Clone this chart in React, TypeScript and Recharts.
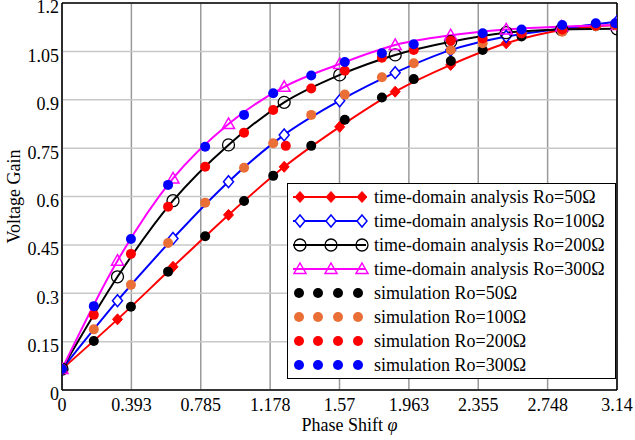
import { ComposedChart, Line, Scatter, XAxis, YAxis, CartesianGrid, ReferenceLine, Label } from "recharts"

const font = '"Liberation Serif", "Times New Roman", serif'

const xTicks = [0, 0.3925, 0.785, 1.1775, 1.57, 1.9625, 2.355, 2.7475, 3.14]
const xTickLabels = ["0", "0.393", "0.785", "1.178", "1.57", "1.963", "2.355", "2.748", "3.14"]
const yTicks = [0, 0.15, 0.3, 0.45, 0.6, 0.75, 0.9, 1.05, 1.2]
const yTickLabels = ["0", "0.15", "0.3", "0.45", "0.6", "0.75", "0.9", "1.05", "1.2"]

// time-domain analysis, sampled every pi/10
const anaX = [0, 0.314, 0.628, 0.942, 1.257, 1.571, 1.885, 2.199, 2.513, 2.827, 3.14]
const ana50 = [0.065, 0.219, 0.382, 0.543, 0.692, 0.816, 0.925, 1.008, 1.075, 1.116, 1.132]
const ana100 = [0.065, 0.277, 0.47, 0.646, 0.791, 0.897, 0.984, 1.054, 1.096, 1.121, 1.142]
const ana200 = [0.065, 0.351, 0.587, 0.76, 0.892, 0.977, 1.039, 1.08, 1.108, 1.118, 1.12]
const ana300 = [0.065, 0.401, 0.656, 0.825, 0.94, 1.011, 1.07, 1.1, 1.118, 1.127, 1.132]

// simulation points
const simX = [0, 0.18, 0.39, 0.6, 0.81, 1.03, 1.195, 1.41, 1.6, 1.81, 1.99, 2.2, 2.38, 2.6, 2.83, 3.02, 3.13]
const sim50 = [0.065, 0.152, 0.258, 0.367, 0.477, 0.586, 0.664, 0.757, 0.838, 0.907, 0.964, 1.02, 1.054, 1.096, 1.115, 1.128, 1.132]
const sim100 = [0.065, 0.188, 0.326, 0.456, 0.581, 0.689, 0.765, 0.853, 0.916, 0.97, 1.013, 1.054, 1.075, 1.106, 1.111, 1.128, 1.132]
const sim200 = [0.065, 0.233, 0.422, 0.568, 0.692, 0.798, 0.868, 0.935, 0.99, 1.03, 1.054, 1.083, 1.09, 1.106, 1.118, 1.13, 1.134]
const sim300 = [0.065, 0.26, 0.468, 0.636, 0.754, 0.853, 0.92, 0.975, 1.017, 1.044, 1.072, null, 1.106, 1.118, 1.132, 1.137, 1.137]
// stray red point near x=1.27
const sim200ExtraX = [1.266]
const sim200Extra = [0.757]

const toPts = (xs: number[], ys: (number | null)[]) =>
  xs.map((x, i) => ({ x, y: ys[i] })).filter((p) => p.y !== null)

const anaSeries = [
  { name: "time-domain analysis Ro=50Ω", color: "#ff0000", marker: "diamondFilled", ys: ana50 },
  { name: "time-domain analysis Ro=100Ω", color: "#0000ff", marker: "diamond", ys: ana100 },
  { name: "time-domain analysis Ro=200Ω", color: "#000000", marker: "circle", ys: ana200 },
  { name: "time-domain analysis Ro=300Ω", color: "#ff00ff", marker: "triangle", ys: ana300 },
]

const simSeries = [
  { name: "simulation Ro=50Ω", color: "#000000", pts: toPts(simX, sim50) },
  { name: "simulation Ro=100Ω", color: "#ea6f36", pts: toPts(simX, sim100) },
  { name: "simulation Ro=200Ω", color: "#ff0000", pts: [...toPts(simX, sim200), ...toPts(sim200ExtraX, sim200Extra)] },
  { name: "simulation Ro=300Ω", color: "#0000ff", pts: toPts(simX, sim300) },
]

function Marker({ shape, cx, cy, color }: { shape: string; cx: number; cy: number; color: string }) {
  if (shape === "diamondFilled")
    return <polygon points={`${cx},${cy - 5.5} ${cx + 5},${cy} ${cx},${cy + 5.5} ${cx - 5},${cy}`} fill={color} stroke={color} strokeWidth={1} />
  if (shape === "diamond")
    return <polygon points={`${cx},${cy - 6} ${cx + 5},${cy} ${cx},${cy + 6} ${cx - 5},${cy}`} fill="#fff" stroke={color} strokeWidth={1.5} />
  if (shape === "circle") return <circle cx={cx} cy={cy} r={6} fill="none" stroke={color} strokeWidth={1.3} />
  return <polygon points={`${cx},${cy - 6} ${cx + 6},${cy + 4.5} ${cx - 6},${cy + 4.5}`} fill="none" stroke={color} strokeWidth={1.5} />
}

function XLabel({ viewBox }: any) {
  const cx = viewBox.x + viewBox.width / 2 + 10
  return (
    <text x={cx} y={431} textAnchor="middle" fontSize={18} fontFamily={font} fill="#000">
      Phase Shift <tspan fontStyle="italic">φ</tspan>
    </text>
  )
}

function YTick({ x, y, payload }: any) {
  return (
    <text x={x} y={y + 4} dy="0.355em" textAnchor="end" fontSize={18} fontFamily={font} fill="#000">
      {yTickLabels[yTicks.indexOf(payload.value)] ?? ""}
    </text>
  )
}

function ChartLegend() {
  return (
    <div
      style={{
        position: "absolute",
        left: 287,
        top: 183,
        width: 329,
        height: 196,
        border: "1.5px solid #000",
        background: "#fff",
        boxSizing: "border-box",
        paddingTop: 1,
        fontFamily: font,
        fontSize: 18,
      }}
    >
      {anaSeries.map((s) => (
        <div key={s.name} style={{ display: "flex", alignItems: "center", height: 24 }}>
          <svg width={86} height={24} style={{ flex: "none" }}>
            <line x1={5} y1={12} x2={78} y2={12} stroke={s.color} strokeWidth={2} />
            {[12, 43, 74].map((cx) => (
              <Marker key={cx} shape={s.marker} cx={cx} cy={12} color={s.color} />
            ))}
          </svg>
          <span style={{ whiteSpace: "nowrap" }}>{s.name}</span>
        </div>
      ))}
      {simSeries.map((s) => (
        <div key={s.name} style={{ display: "flex", alignItems: "center", height: 24 }}>
          <svg width={86} height={24} style={{ flex: "none" }}>
            {[11, 30, 50, 70].map((cx) => (
              <circle key={cx} cx={cx} cy={12} r={5} fill={s.color} />
            ))}
          </svg>
          <span style={{ whiteSpace: "nowrap" }}>{s.name}</span>
        </div>
      ))}
    </div>
  )
}

export default function App() {
  return (
    <div style={{ position: "absolute", left: 0, top: 0, width: 635, height: 440, background: "#fff" }}>
      <ComposedChart width={635} height={440} margin={{ top: 3, right: 18, bottom: 0, left: 2 }}>
        <CartesianGrid horizontal={false} stroke="#9a9a9a" strokeWidth={1.5} />
        <CartesianGrid vertical={false} stroke="#c8c8c8" strokeWidth={1.5} />
        <XAxis
          type="number"
          dataKey="x"
          domain={[0, 3.14]}
          ticks={xTicks}
          tickFormatter={(v: number) => xTickLabels[xTicks.indexOf(v)] ?? ""}
          height={50}
          tickLine={false}
          tickSize={6}
          tickMargin={2}
          axisLine={{ stroke: "#000", strokeWidth: 1.5 }}
          tick={{ fill: "#000", fontSize: 18, fontFamily: font }}
          interval={0}
          allowDataOverflow
        >
          <Label content={<XLabel />} />
        </XAxis>
        <YAxis
          type="number"
          domain={[0, 1.2]}
          ticks={yTicks}
          width={60}
          tickLine={false}
          tickSize={2}
          tickMargin={1}
          axisLine={{ stroke: "#000", strokeWidth: 1.5 }}
          tick={<YTick />}
          interval={0}
          allowDataOverflow
        >
          <Label value="Voltage Gain" angle={-90} position="center" dx={-18} style={{ fontSize: 18, fontFamily: font, fill: "#000" }} />
        </YAxis>
        <ReferenceLine y={1.2} stroke="#000" strokeWidth={1.5} />
        <ReferenceLine x={3.14} stroke="#000" strokeWidth={1.5} />
        {anaSeries.map((s) => (
          <Line
            key={s.name}
            data={toPts(anaX, s.ys)}
            dataKey="y"
            type="monotone"
            stroke={s.color}
            strokeWidth={2}
            isAnimationActive={false}
            dot={(p: any) => <Marker key={`${s.name}-${p.index}`} shape={s.marker} cx={p.cx} cy={p.cy} color={s.color} />}
            activeDot={false}
          />
        ))}
        {simSeries.map((s) => (
          <Scatter
            key={s.name}
            data={s.pts}
            dataKey="y"
            isAnimationActive={false}
            shape={(p: any) => <circle cx={p.cx} cy={p.cy} r={5} fill={s.color} />}
          />
        ))}
      </ComposedChart>
      <ChartLegend />
    </div>
  )
}
